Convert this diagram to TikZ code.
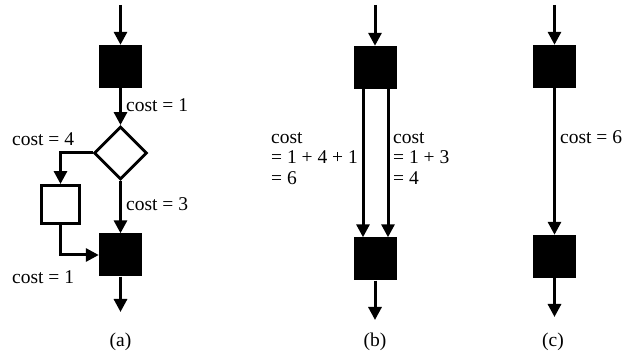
\documentclass[tikz,border=0pt]{standalone}
\usepackage{fontspec}
\setmainfont{Liberation Serif}
\usetikzlibrary{arrows.meta,shapes.geometric}
\begin{document}
\begin{tikzpicture}[x=1pt,y=-1pt,
  blk/.style={draw=none,fill=black,minimum width=43pt,minimum height=43pt,inner sep=0pt},
  wbox/.style={draw,line width=2.9pt,fill=white,minimum width=38pt,minimum height=38pt,inner sep=0pt},
  dia/.style={diamond,draw,line width=2.9pt,minimum width=53pt,minimum height=53pt,inner sep=0pt,aspect=1},
  arr/.style={line width=3pt,-{Triangle[width=13pt,length=13pt]}},
  lbl/.style={inner sep=0pt,align=left,anchor=west},
  font=\fontsize{19.5}{20.5}\selectfont]
\useasboundingbox (0,0) rectangle (635,358);
% (a)
\coordinate (a0) at (120.5,5);
\coordinate (a9) at (120.5,312);
\node[blk] (b1) at (120.5,66.5) {};
\node[dia] (d) at (120.5,153) {};
\node[wbox] (w) at (60.5,204.5) {};
\node[blk] (b2) at (120.5,255) {};
\draw[arr] (a0) -- (b1.north);
\draw[arr] (b1.south) -- (d.north);
\draw[arr] (d.south) -- (b2.north);
\draw[arr] (d.west) -| (w.north);
\draw[arr] (w.south) |- (b2.west);
\draw[arr] (b2.south) -- (a9);
\node[lbl] (la1) at (126,105) {cost = 1};
\node[lbl] (la2) at (12,139) {cost = 4};
\node[lbl] (la3) at (126,204) {cost = 3};
\node[lbl] (la4) at (12,277) {cost = 1};
\node (ca) at (120.5,342) {(a)};
% (b)
\coordinate (b0) at (375,5);
\coordinate (b9) at (375,320);
\node[blk] (b3) at (375,67.5) {};
\node[blk] (b4) at (375,259) {};
\draw[arr] (b0) -- (b3.north);
\draw[arr] ([xshift=-12pt]b3.south) -- ([xshift=-12pt]b4.north);
\draw[arr] ([xshift=13pt]b3.south) -- ([xshift=13pt]b4.north);
\draw[arr] (b4.south) -- (b9);
\node[lbl] (lb1) at (271,158.5) {cost\\= 1 + 4 + 1\\= 6};
\node[lbl] (lb2) at (393,158.5) {cost\\= 1 + 3\\= 4};
\node (cb) at (375,342) {(b)};
% (c)
\coordinate (c0) at (554.5,5);
\coordinate (c9) at (554.5,317);
\node[blk] (b5) at (554.5,66.5) {};
\node[blk] (b6) at (554.5,256.5) {};
\draw[arr] (c0) -- (b5.north);
\draw[arr] (b5.south) -- (b6.north);
\draw[arr] (b6.south) -- (c9);
\node[lbl] (lc1) at (560,137) {cost = 6};
\node (cc) at (553,342) {(c)};
\end{tikzpicture}
\end{document}
